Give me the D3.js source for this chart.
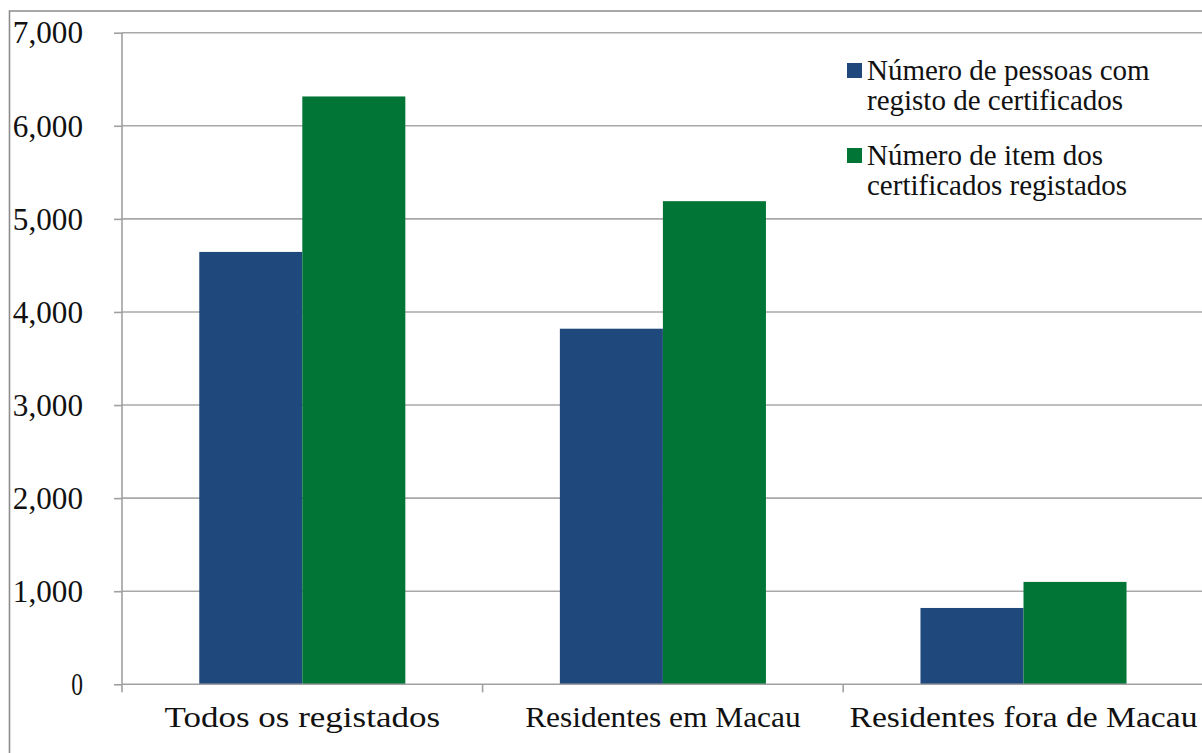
<!DOCTYPE html>
<html>
<head>
<meta charset="utf-8">
<script src="https://cdn.jsdelivr.net/npm/d3@7"></script>
<style>
  body { margin: 0; background: #fff; }
  text { font-family: "Liberation Serif", "Times New Roman", serif; fill: #111; }
  .grid line { stroke: #a8a8a8; stroke-width: 1.6; }
  .axis path, .axis line { stroke: #a0a0a0; stroke-width: 1.6; }
</style>
</head>
<body>
<div id="chart"></div>
<script>
'use strict';

// Chart data.
var categories = ['Todos os registados', 'Residentes em Macau', 'Residentes fora de Macau'];
var seriesNames = ['Número de pessoas com|registo de certificados', 'Número de item dos|certificados registados'];
var personsValues = [4645, 3820, 820];
var itemValues = [6315, 5190, 1100];
var yTicks = [0, 1000, 2000, 3000, 4000, 5000, 6000, 7000];
var colors = ['#1f497d', '#007535'];

var width = 1202;
var height = 753;
var margin = { top: 32.7, right: 0, bottom: 68.7, left: 122 };
var plotW = 1081.8;
var plotH = height - margin.top - margin.bottom;

var svg = d3.select('#chart').append('svg')
  .attr('width', width)
  .attr('height', height);

// Outer chart border (only left and top edges are within the picture).
svg.append('path')
  .attr('d', 'M9.5,' + height + 'V11H' + width)
  .attr('fill', 'none')
  .attr('stroke', '#8c8c8c')
  .attr('stroke-width', 1.6);

var g = svg.append('g')
  .attr('transform', 'translate(' + margin.left + ',' + margin.top + ')');

var y = d3.scaleLinear().domain([0, 7000]).range([plotH, 0]);
var x0 = d3.scaleBand().domain(categories).range([0, plotW]).padding(0);
var x1 = d3.scaleBand().domain([0, 1]).range([0, x0.bandwidth()])
  .paddingInner(0).paddingOuter(0.75);

// Gridlines
g.append('g').attr('class', 'grid')
  .selectAll('line')
  .data(yTicks.slice(1))
  .enter().append('line')
  .attr('x1', 0)
  .attr('x2', width)
  .attr('y1', function(d) { return y(d); })
  .attr('y2', function(d) { return y(d); });

// Bars
var rows = categories.map(function(c, i) {
  return { cat: c, values: [personsValues[i], itemValues[i]] };
});

g.selectAll('.group')
  .data(rows)
  .enter().append('g')
  .attr('class', 'group')
  .attr('transform', function(d) { return 'translate(' + x0(d.cat) + ',0)'; })
  .selectAll('rect')
  .data(function(d) { return d.values.map(function(v, j) { return { s: j, v: v }; }); })
  .enter().append('rect')
  .attr('x', function(d) { return x1(d.s); })
  .attr('width', x1.bandwidth())
  .attr('y', function(d) { return y(d.v); })
  .attr('height', function(d) { return y(0) - y(d.v); })
  .attr('fill', function(d) { return colors[d.s]; });

// Y axis
var fmt = d3.format(',');
var yAxis = g.append('g').attr('class', 'axis')
  .call(d3.axisLeft(y).tickValues(yTicks).tickSize(8).tickSizeOuter(0).tickFormat(fmt));
yAxis.selectAll('text')
  .attr('x', -39)
  .attr('dy', '0.32em')
  .style('font-size', '32px')
  .attr('textLength', function(d) { return fmt(d).length * 11.7 + (d >= 1000 ? 11.7 : 0); })
  .attr('lengthAdjust', 'spacingAndGlyphs');
yAxis.select('.domain').attr('d', 'M0,0V' + (plotH + 8));

// X axis
var xAxis = g.append('g').attr('class', 'axis')
  .attr('transform', 'translate(0,' + plotH + ')')
  .call(d3.axisBottom(x0).tickSize(0).tickSizeOuter(0));
xAxis.select('.domain').attr('d', 'M0,0H' + width);
xAxis.selectAll('text')
  .attr('y', 0)
  .attr('dy', 43)
  .style('font-size', '30px')
  .attr('textLength', function(d) { return d.length * 14.5; })
  .attr('lengthAdjust', 'spacingAndGlyphs');

// Category boundary ticks
g.append('g').attr('class', 'axis')
  .selectAll('line')
  .data(categories.slice(1))
  .enter().append('line')
  .attr('x1', function(d) { return x0(d); })
  .attr('x2', function(d) { return x0(d); })
  .attr('y1', plotH)
  .attr('y2', plotH + 8);

// Legend
var legend = svg.append('g').attr('transform', 'translate(847,0)');
var entryTop = [63, 148];
seriesNames.forEach(function(name, i) {
  legend.append('rect')
    .attr('x', 0)
    .attr('y', entryTop[i])
    .attr('width', 15)
    .attr('height', 15)
    .attr('fill', colors[i]);
  var t = legend.append('text')
    .attr('x', 20)
    .attr('y', entryTop[i] + 17)
    .style('font-size', '29px');
  name.split('|').forEach(function(line, k) {
    t.append('tspan')
      .attr('x', 20)
      .attr('dy', k === 0 ? 0 : 30)
      .text(line);
  });
});
</script>
</body>
</html>
